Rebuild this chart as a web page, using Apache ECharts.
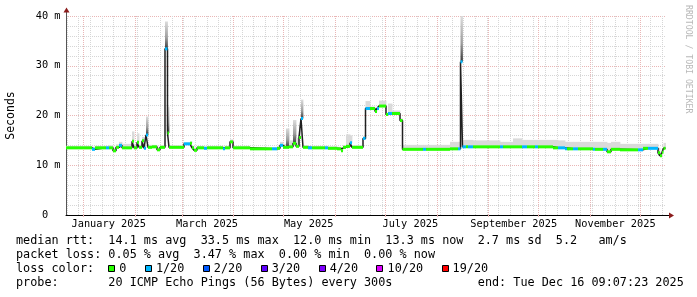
<!DOCTYPE html>
<html><head><meta charset="utf-8">
<script src="https://cdn.jsdelivr.net/npm/echarts@6/dist/echarts.min.js"></script>
<style>html,body{margin:0;padding:0;background:#fff}#c{width:697px;height:297px}</style>
</head><body><div id="c"></div>
<script>
// ---------------- data ----------------
// graph covers the 360 days ending Tue Dec 16 09:07:23 2025
const graphEnd = Date.UTC(2025, 11, 16, 9, 7, 23);
const rangeDays = 360;
const dataEndDay = 359.7;
// segment start (days since graph start), median rtt (ms), top of smoke (ms), lost pings of 20
const segStartDay = [0,15.6,17.4,24,25.8,28.2,30,31.8,33.6,39.6,
  40.8,42.6,43.8,45.6,46.8,48,49.2,51.6,54.6,56.4,
  59.4,60.9,61.8,70.8,74.4,75.6,76.8,78.6,82.8,84.6,
  94.2,95.4,98.4,100.2,110.4,123.6,126.6,128.4,130.2,132,
  133.8,136.2,138,139.8,141,142.2,145.2,147.6,155.4,157.2,
  162.6,165,166.2,168,170.4,171.6,178.2,179.7,182.4,185.4,
  186.6,187.8,192,193.2,195.6,200.4,201.9,214.2,216,230.4,
  235.2,236.7,237.9,240,241.2,244.2,260.4,262.2,268.2,273.6,
  276.6,281.4,283.2,292.2,295.2,299.4,300.6,304.2,307.2,316.2,
  317.4,322.2,324.6,327,332.4,343.2,346.2,349.2,355.2,356.4,
  357.6,358.5];
const medianMs = [13.5,13.2,13.5,13.5,13.5,12.9,13.6,14.0,13.5,14.8,
  13.5,14.6,13.6,14.9,13.4,16.1,13.6,13.7,13.1,13.6,
  33.4,16.5,13.6,14.3,14.4,13.5,13.0,13.5,13.4,13.5,
  13.3,13.5,14.7,13.5,13.3,13.3,13.4,14.0,13.6,13.6,
  13.7,14.4,13.8,15.6,19.4,13.6,13.5,13.5,13.5,13.4,
  13.3,12.9,13.6,13.8,14.5,13.6,15.4,21.4,21.4,20.8,
  21.4,21.9,20.2,20.4,20.4,19.0,13.2,13.2,13.2,13.3,
  13.3,30.8,13.7,13.7,13.7,13.7,13.7,13.7,13.7,13.7,
  13.7,13.7,13.7,13.5,13.5,13.3,13.3,13.3,13.3,13.2,
  13.2,13.2,12.7,13.2,13.1,13.1,13.4,13.4,12.5,11.9,
  12.6,13.4];
const smokeTopMs = [13.9,13.7,13.9,13.9,14.0,13.5,14.2,14.7,14.3,16.8,
  14.2,16.4,14.1,15.7,14.0,19.8,14.1,14.1,13.6,14.0,
  38.9,21.8,14.0,14.6,14.8,13.9,13.5,13.9,13.8,13.9,
  13.8,13.9,15.2,13.9,13.6,13.6,13.8,14.7,14.3,17.4,
  15.0,19.1,15.5,18.0,23.2,14.0,13.9,13.9,13.9,13.8,
  13.7,13.4,14.0,16.2,16.0,14.0,15.8,22.9,21.8,21.3,
  21.9,23.0,20.6,22.4,21.0,19.4,14.1,14.1,14.1,14.7,
  14.7,40.0,15.1,15.1,15.1,15.0,14.7,14.7,15.4,15.1,
  15.1,15.1,15.1,15.1,15.0,14.7,14.7,14.7,14.7,14.7,
  14.7,14.7,14.5,14.7,14.3,14.3,14.3,14.3,13.5,12.6,
  13.3,14.5];
const lossOf20 = [0,1,0,1,0,0,0,1,0,0,
  0,0,0,0,1,1,0,0,0,0,
  1,0,0,1,0,0,0,0,1,0,
  1,0,0,0,0,1,0,1,0,0,
  0,0,0,0,1,0,1,0,1,0,
  0,0,0,0,1,0,1,1,0,0,
  1,0,0,1,0,0,0,1,0,0,
  1,1,1,0,1,0,1,0,0,1,
  0,1,0,0,1,1,0,1,0,1,
  0,1,0,0,0,1,0,1,0,0,
  0,0];
const lossLevels = [0, 1, 2, 3, 4, 10, 19];
const lossLabels = ['0', '1/20', '2/20', '3/20', '4/20', '10/20', '19/20'];
const lossColors = ['#26ff00', '#00b8ff', '#0059ff', '#5e00ff', '#7e00ff', '#dd00ff', '#ff0000'];
const yTickValues = [0, 10, 20, 30, 40];
const xLabelMonths = ['January 2025', 'March 2025', 'May 2025', 'July 2025', 'September 2025', 'November 2025'];
const monthNames = ['January','February','March','April','May','June','July','August','September','October','November','December'];
const statLine1 = 'median rtt:  14.1 ms avg  33.5 ms max  12.0 ms min  13.3 ms now  2.7 ms sd  5.2   am/s';
const statLine2 = 'packet loss: 0.05 % avg  3.47 % max  0.00 % min  0.00 % now';
const lossTitle = 'loss color:';
const probeLine = 'probe:       20 ICMP Echo Pings (56 Bytes) every 300s';
const endLine = 'end: Tue Dec 16 09:07:23 2025';
const yName = 'Seconds';
const watermark = 'RRDTOOL / TOBI OETIKER';

// ---------------- build ----------------
const DAY = 86400000;
const t0 = graphEnd - rangeDays * DAY;
const toDay = t => (t - t0) / DAY;
const weekDays = [];
{ let t = Date.UTC(2024, 11, 22); while (t < graphEnd) { weekDays.push(toDay(t)); t += 7 * DAY; } }
const monthDays = [];
for (let m = 0; m < 12; m++) monthDays.push(toDay(Date.UTC(2025, m, 1)));
const labelDays = xLabelMonths.map(s => {
  const p = s.split(' ');
  return toDay(Date.UTC(+p[1], monthNames.indexOf(p[0]), 16));
});
function lossIdx(l) { for (let i = 0; i < lossLevels.length; i++) if (l <= lossLevels[i]) return i; return lossLevels.length - 1; }
const segs = segStartDay.map((d, i) => [d, i + 1 < segStartDay.length ? segStartDay[i + 1] : dataEndDay,
  medianMs[i], smokeTopMs[i], lossIdx(lossOf20[i])]);
const medLine = segs.map(s => [s[0], s[2]]);
medLine.push([dataEndDay, medianMs[medianMs.length - 1]]);

const FONT = 'DejaVu Sans Mono';
const minorGrid = '#d6d6d6';
const majorGrid = '#e9b6b6';
const axisFont = 10.3;
const legFont = 11.8;
const CW = legFont * 0.6021;

const chart = echarts.init(document.getElementById('c'), null, {renderer: 'canvas', width: 697, height: 297});

const graphics = [];
// axis extensions and arrows
graphics.push({type: 'line', shape: {x1: 666, y1: 215.5, x2: 670, y2: 215.5}, style: {stroke: '#000', lineWidth: 1}, silent: true});
graphics.push({type: 'polygon', shape: {points: [[669, 212.5], [669, 218.5], [674, 215.5]]}, style: {fill: '#8b1c1c'}, silent: true});
graphics.push({type: 'line', shape: {x1: 66.5, y1: 16, x2: 66.5, y2: 11}, style: {stroke: '#555', lineWidth: 1}, silent: true});
graphics.push({type: 'polygon', shape: {points: [[63.5, 12.5], [69.5, 12.5], [66.5, 7.5]]}, style: {fill: '#8b1c1c'}, silent: true});
// watermark
graphics.push({type: 'text', x: 688, y: 5, rotation: -Math.PI / 2, silent: true,
  style: {text: watermark, fontFamily: FONT, fontSize: 8.2, fill: '#b8b8b8', align: 'left', verticalAlign: 'middle'}});
// legend text
const legX = 16;
[[statLine1, 241], [statLine2, 255], [lossTitle, 269], [probeLine, 283]].forEach(([t, y]) => {
  graphics.push({type: 'text', x: legX, y: y, silent: true,
    style: {text: t, fontFamily: FONT, fontSize: legFont, fill: '#000', align: 'left', verticalAlign: 'middle'}});
});
graphics.push({type: 'text', x: legX + 65 * CW, y: 283, silent: true,
  style: {text: endLine, fontFamily: FONT, fontSize: legFont, fill: '#000', align: 'left', verticalAlign: 'middle'}});
// loss colour boxes
{
  let bx = 108.7;
  lossLabels.forEach((lab, i) => {
    graphics.push({type: 'rect', shape: {x: Math.floor(bx) + 0.5, y: 265.5, width: 6, height: 6}, silent: true,
      style: {fill: lossColors[i], stroke: '#000', lineWidth: 1}});
    graphics.push({type: 'text', x: bx + 10.6, y: 269, silent: true,
      style: {text: lab, fontFamily: FONT, fontSize: legFont, fill: '#000', align: 'left', verticalAlign: 'middle'}});
    bx += 29.5 + lab.length * CW;
  });
}

const option = {
  animation: false,
  backgroundColor: '#ffffff',
  textStyle: {fontFamily: FONT},
  grid: {left: 66, top: 16, width: 600, height: 199, containLabel: false, outerBoundsMode: 'none'},
  xAxis: [
    {type: 'value', min: 0, max: rangeDays, position: 'top',
      axisLine: {show: false}, axisTick: {show: false, customValues: weekDays},
      axisLabel: {show: false, customValues: weekDays},
      splitLine: {show: true, lineStyle: {color: minorGrid, width: 1, type: [1, 1]}}},
    {type: 'value', min: 0, max: rangeDays, position: 'bottom',
      axisLine: {show: true, onZero: false, lineStyle: {color: '#000', width: 1}},
      axisTick: {show: true, customValues: monthDays, length: 2, lineStyle: {color: majorGrid}},
      axisLabel: {show: false, customValues: monthDays},
      splitLine: {show: true, lineStyle: {color: majorGrid, width: 1, type: [1, 1]}}},
    {type: 'value', min: 0, max: rangeDays, position: 'bottom',
      axisLine: {show: false}, axisTick: {show: false, customValues: labelDays},
      axisLabel: {show: true, customValues: labelDays, margin: 4, fontSize: axisFont, fontFamily: FONT, color: '#000',
        formatter: v => { const d = new Date(t0 + v * DAY); return monthNames[d.getUTCMonth()] + ' ' + d.getUTCFullYear(); }},
      splitLine: {show: false}}
  ],
  yAxis: {type: 'value', min: 0, max: 40, interval: 10,
    name: yName, nameLocation: 'middle', nameGap: 49, nameRotate: 90,
    nameTextStyle: {fontFamily: FONT, fontSize: 11.5, color: '#000'},
    axisLine: {show: true, onZero: false, lineStyle: {color: '#555', width: 1}},
    axisTick: {show: false},
    axisLabel: {show: true, margin: 5.5, fontSize: axisFont, fontFamily: FONT, color: '#000',
      formatter: v => yTickValues.indexOf(v) >= 0 ? (v === 0 ? '0  ' : v + ' m') : ''},
    splitLine: {show: true, lineStyle: {color: majorGrid, width: 1, type: [1, 1]}},
    minorTick: {show: false, splitNumber: 5},
    minorSplitLine: {show: true, lineStyle: {color: minorGrid, width: 1, type: [1, 1]}}},
  series: [
    {type: 'custom', name: 'smoke', xAxisIndex: 0, yAxisIndex: 0, data: segs, clip: true, silent: true,
      encode: {x: [0, 1], y: [2, 3]}, z: 2,
      renderItem: (params, api) => {
        const a = api.coord([api.value(0), api.value(3)]);
        const b = api.coord([api.value(1), api.value(2)]);
        const h = api.value(3) - api.value(2);
        const fill = h > 2.5 ? new echarts.graphic.LinearGradient(0, 1, 0, 0, [
          {offset: 0, color: '#3a3a3a'}, {offset: 0.4, color: '#9c9c9c'}, {offset: 1, color: '#dcdcdc'}]) : '#dadada';
        return {type: 'rect', shape: {x: a[0], y: a[1], width: b[0] - a[0] + 0.4, height: b[1] - a[1]}, style: {fill: fill}};
      }},
    {type: 'line', name: 'median', xAxisIndex: 0, yAxisIndex: 0, data: medLine, step: 'end', symbol: 'none', silent: true,
      lineStyle: {color: '#202020', width: 1.5}, z: 3, emphasis: {disabled: true}},
    {type: 'custom', name: 'loss', xAxisIndex: 0, yAxisIndex: 0, data: segs, clip: true, silent: true,
      encode: {x: [0, 1], y: 2}, z: 4,
      renderItem: (params, api) => {
        const a = api.coord([api.value(0), api.value(2)]);
        const b = api.coord([api.value(1), api.value(2)]);
        return {type: 'rect', shape: {x: a[0], y: a[1] - 1.5, width: b[0] - a[0], height: 3},
          style: {fill: lossColors[api.value(4)]}};
      }}
  ],
  graphic: graphics
};
chart.setOption(option);
</script></body></html>
